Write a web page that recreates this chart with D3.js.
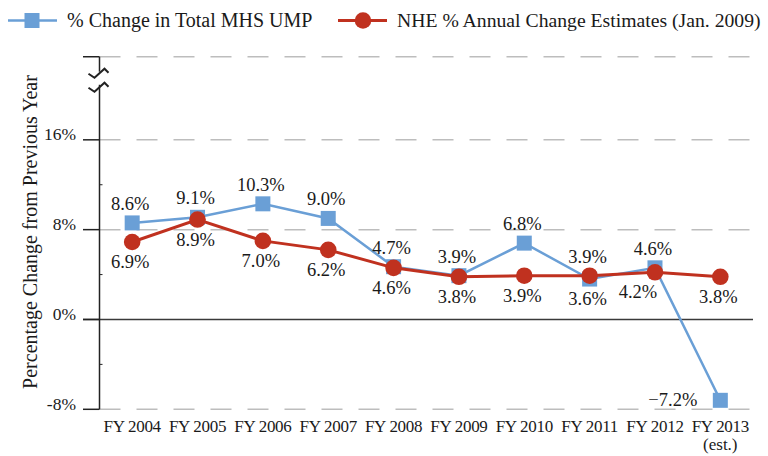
<!doctype html>
<html>
<head>
<meta charset="utf-8">
<title>MHS UMP vs NHE</title>
<script src="https://cdnjs.cloudflare.com/ajax/libs/d3/7.8.5/d3.min.js"></script>
<style>
body { margin: 0; background: #fff; }
text { font-family: "Liberation Serif", "DejaVu Serif", serif; fill: #1a1a1a; }
</style>
</head>
<body>
<div id="chart"></div>
<script>
// data
var years = ["FY 2004", "FY 2005", "FY 2006", "FY 2007", "FY 2008",
             "FY 2009", "FY 2010", "FY 2011", "FY 2012", "FY 2013"];
var umpChange = [8.6, 9.1, 10.3, 9.0, 4.7, 3.9, 6.8, 3.6, 4.6, -7.2];
var nheChange = [6.9, 8.9, 7.0, 6.2, 4.6, 3.8, 3.9, 3.9, 4.2, 3.8];
var umpLabels = ["8.6%", "9.1%", "10.3%", "9.0%", "4.7%", "3.9%", "6.8%", "3.6%", "4.6%", "\u22127.2%"];
var nheLabels = ["6.9%", "8.9%", "7.0%", "6.2%", "4.6%", "3.8%", "3.9%", "3.9%", "4.2%", "3.8%"];
var majorTicks = [-8, 0, 8, 16];
var tickLabels = ["-8%", "0%", "8%", "16%"];
var minorTicks = [-4, 4, 12];
var topValue = 23.4;   // where the broken axis ends

// where each value label sits relative to its point
var umpPlace = ["above", "above", "above", "above", "above", "above", "above", "below", "above", "left"];
var nhePlace = ["below", "below", "below", "below", "below", "below", "below", "above", "belowLeft", "below"];

var width = 768, height = 456;
var blue = "#6a9fd6", red = "#c0311f";

var svg = d3.select("#chart").append("svg")
    .attr("width", width).attr("height", height);

var x = d3.scalePoint().domain(years).range([99.5, 753]).padding(0.5);
var y = d3.scaleLinear().domain([-8, 24]).range([409.3, 50]);
var axisX = 99.5, rightX = 753;

// gridlines
svg.selectAll(".grid")
    .data(majorTicks.filter(function(d){ return d !== 0; }).concat([topValue]))
  .enter().append("line")
    .attr("x1", axisX).attr("x2", rightX)
    .attr("y1", function(d){ return y(d); })
    .attr("y2", function(d){ return y(d); })
    .style("stroke", "#bdbdbd")
    .style("stroke-width", 1.5)
    .style("stroke-dasharray", "21,16");

// zero line
svg.append("line")
    .attr("x1", 83).attr("x2", rightX)
    .attr("y1", y(0)).attr("y2", y(0))
    .style("stroke", "#3a3a3a").style("stroke-width", 1.5);

// major tick marks
svg.selectAll(".tick")
    .data(majorTicks.concat([topValue]))
  .enter().append("line")
    .attr("x1", 83).attr("x2", axisX)
    .attr("y1", function(d){ return y(d); })
    .attr("y2", function(d){ return y(d); })
    .style("stroke", "#222").style("stroke-width", 1.5);

svg.selectAll(".minor")
    .data(minorTicks)
  .enter().append("line")
    .attr("x1", axisX).attr("x2", axisX + 3)
    .attr("y1", function(d){ return y(d); })
    .attr("y2", function(d){ return y(d); })
    .style("stroke", "#222").style("stroke-width", 1);

svg.selectAll(".tickLabel")
    .data(majorTicks)
  .enter().append("text")
    .attr("x", 76)
    .attr("y", function(d){ return y(d) + 0.5; })
    .attr("text-anchor", "end")
    .style("font-size", "17.5px")
    .text(function(d, i){ return tickLabels[i]; });

// y axis with break
var breakTop = y(topValue);
svg.append("line")
    .attr("x1", axisX).attr("x2", axisX)
    .attr("y1", breakTop).attr("y2", breakTop + 15)
    .style("stroke", "#222").style("stroke-width", 1.5);
svg.append("line")
    .attr("x1", axisX).attr("x2", axisX)
    .attr("y1", breakTop + 28).attr("y2", y(-8))
    .style("stroke", "#222").style("stroke-width", 1.5);
[breakTop + 17, breakTop + 31].forEach(function(by) {
  svg.append("path")
    .attr("d", "M" + (axisX - 11) + "," + by +
               " L" + (axisX - 5) + "," + (by + 4) +
               " L" + (axisX + 5) + "," + (by - 5) +
               " L" + (axisX + 9) + "," + (by - 1))
    .style("fill", "none").style("stroke", "#222").style("stroke-width", 2);
});

// y title
svg.append("text")
    .attr("transform", "translate(37," + 232 + ") rotate(-90)")
    .attr("text-anchor", "middle")
    .style("font-size", "20px")
    .text("Percentage Change from Previous Year");

// x labels
svg.selectAll(".xLabel")
    .data(years)
  .enter().append("text")
    .attr("x", function(d){ return x(d); })
    .attr("y", 432)
    .attr("text-anchor", "middle")
    .style("font-size", "17px")
    .style("letter-spacing", "-0.3px")
    .text(function(d){ return d; });
svg.append("text")
    .attr("x", x(years[years.length - 1]))
    .attr("y", 450)
    .attr("text-anchor", "middle")
    .style("font-size", "17px")
    .text("(est.)");

var line = d3.line()
    .x(function(d, i){ return x(years[i]); })
    .y(function(d){ return y(d); });

// blue series
svg.append("path")
    .datum(umpChange)
    .attr("d", line)
    .style("fill", "none").style("stroke", blue).style("stroke-width", 2.5);
svg.selectAll(".sq")
    .data(umpChange)
  .enter().append("rect")
    .attr("x", function(d, i){ return x(years[i]) - 7.5; })
    .attr("y", function(d){ return y(d) - 7.5; })
    .attr("width", 15).attr("height", 15)
    .style("fill", blue);

// red series
svg.append("path")
    .datum(nheChange)
    .attr("d", line)
    .style("fill", "none").style("stroke", red).style("stroke-width", 3);
svg.selectAll(".dot")
    .data(nheChange)
  .enter().append("circle")
    .attr("cx", function(d, i){ return x(years[i]); })
    .attr("cy", function(d){ return y(d); })
    .attr("r", 8.3)
    .style("fill", red);

function placeLabels(values, labels, places) {
  svg.selectAll(null)
      .data(values)
    .enter().append("text")
      .style("font-size", "18.5px")
      .attr("text-anchor", function(d, i){ return places[i] === "left" ? "end" : "middle"; })
      .attr("x", function(d, i){
        var px = x(years[i]);
        if (places[i] === "left") return px - 23;
        if (places[i] === "belowLeft") return px - 17;
        return px - 2;
      })
      .attr("y", function(d, i){
        var py = y(d);
        if (places[i] === "above") return py - 13;
        if (places[i] === "left") return py + 6;
        return py + 26;
      })
      .text(function(d, i){ return labels[i]; });
}
placeLabels(umpChange, umpLabels, umpPlace);
placeLabels(nheChange, nheLabels, nhePlace);

// legend
var lg = svg.append("g");
lg.append("line").attr("x1", 8).attr("x2", 57).attr("y1", 20.5).attr("y2", 20.5)
    .style("stroke", blue).style("stroke-width", 2.5);
lg.append("rect").attr("x", 32 - 7.5).attr("y", 20.5 - 7.5).attr("width", 15).attr("height", 15)
    .style("fill", blue);
lg.append("text").attr("x", 67).attr("y", 27).style("font-size", "20px")
    .text("% Change in Total MHS UMP");
lg.append("line").attr("x1", 338).attr("x2", 387).attr("y1", 20.5).attr("y2", 20.5)
    .style("stroke", red).style("stroke-width", 3);
lg.append("circle").attr("cx", 363).attr("cy", 20.5).attr("r", 8.3)
    .style("fill", red);
lg.append("text").attr("x", 397).attr("y", 27).style("font-size", "19.7px")
    .text("NHE % Annual Change Estimates (Jan. 2009)");
</script>
</body>
</html>
